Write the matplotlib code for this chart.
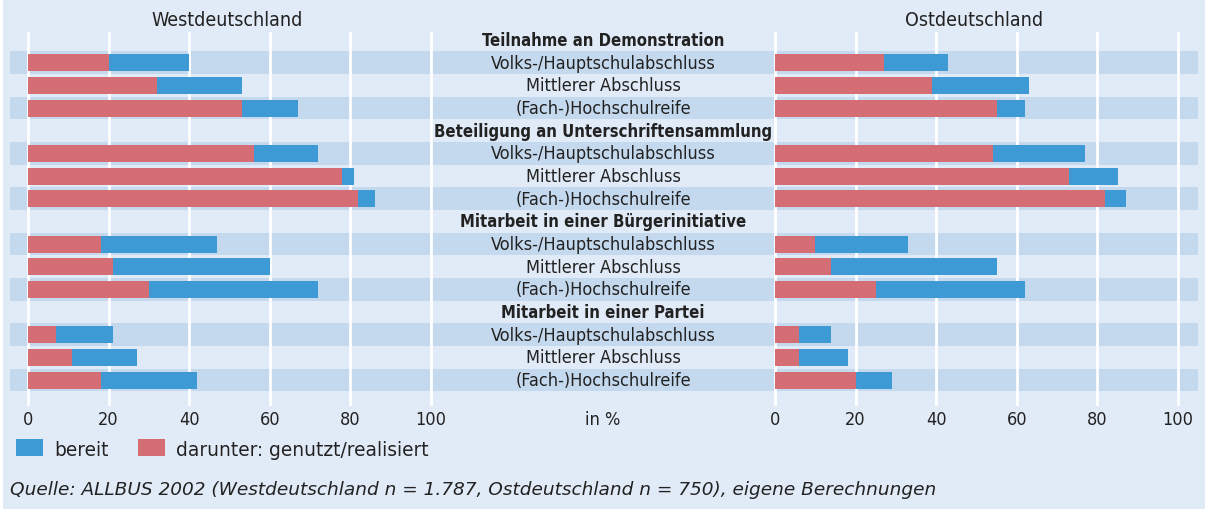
import matplotlib
matplotlib.use("Agg")
import matplotlib.pyplot as plt
from matplotlib.patches import Rectangle

plt.rcParams['font.family'] = ['DejaVu Sans']
plt.rcParams['font.stretch'] = 'condensed'

# Daten (Anteile in %)
gruppen = ["Teilnahme an Demonstration",
           "Beteiligung an Unterschriftensammlung",
           "Mitarbeit in einer Bürgerinitiative",
           "Mitarbeit in einer Partei"]
abschluss = ["Volks-/Hauptschulabschluss", "Mittlerer Abschluss", "(Fach-)Hochschulreife"]

west_bereit = [40, 53, 67, 72, 81, 86, 47, 60, 72, 21, 27, 42]
west_genutzt = [20, 32, 53, 56, 78, 82, 18, 21, 30, 7, 11, 18]
ost_bereit = [43, 63, 62, 77, 85, 87, 33, 55, 62, 14, 18, 29]
ost_genutzt = [27, 39, 55, 54, 73, 82, 10, 14, 25, 6, 6, 20]

ticks = [0, 20, 40, 60, 80, 100]

BG = '#e1ebf7'
BAND = '#c5d9ee'
BLUE = '#3d9ad4'
RED = '#d56d75'
TXT = '#222222'

W, H = 1205, 510
fig = plt.figure(figsize=(W / 100, H / 100), dpi=100, facecolor=BG)

def fx(x):
    return x / W

def fy(y):
    return 1 - y / H

# Zeilenpositionen: je Gruppe eine Überschrift + drei Balken
y_head = []
y_rows = []
for g in range(len(gruppen)):
    y_head.append(g * 4)
    y_rows += [g * 4 + 1, g * 4 + 2, g * 4 + 3]

top_px, bot_px, y0_px, pitch = 33, 407, 41, 22.67
ylim = ((bot_px - y0_px) / pitch, (top_px - y0_px) / pitch)
ax_bottom = fy(bot_px)
ax_height = (bot_px - top_px) / H

# Hintergrund mit Streifen
bg = fig.add_axes([0, ax_bottom, 1, ax_height])
bg.set_xlim(0, W)
bg.set_ylim(*ylim)
bg.axis('off')
for i, y in enumerate(y_rows):
    if i % 3 != 1:
        bg.axhspan(y - 0.5, y + 0.5, xmin=10 / W, xmax=1198 / W, color=BAND, lw=0)
for g, y in enumerate(y_head):
    bg.text(603, y, gruppen[g], ha='center', va='center',
            fontsize=12, fontweight='bold', color=TXT)
for i, y in enumerate(y_rows):
    bg.text(603, y, abschluss[i % 3], ha='center', va='center', fontsize=13, color=TXT)

fig.add_artist(Rectangle((0, 0), fx(3), 1, transform=fig.transFigure, color='white', lw=0))

def panel(x0, x100, bereit, genutzt, titel):
    scale = (x100 - x0) / 100
    left = x0 - 2 * scale
    ax = fig.add_axes([fx(left), ax_bottom, fx(104 * scale), ax_height])
    ax.set_facecolor('none')
    ax.set_xlim(-2, 102)
    ax.set_ylim(*ylim)
    for s in ax.spines.values():
        s.set_visible(False)
    ax.set_yticks([])
    ax.set_xticks(ticks)
    ax.tick_params(axis='x', length=0, pad=3, labelsize=13, colors=TXT)
    ax.grid(axis='x', color='white', lw=2.0)
    ax.set_axisbelow(True)
    ax.barh(y_rows, bereit, left=0, height=0.75, color=BLUE, zorder=3)
    ax.barh(y_rows, genutzt, left=0, height=0.75, color=RED, zorder=4)
    fig.text(fx((x0 + x100) / 2 - 2), fy(20), titel, ha='center', va='center',
             fontsize=14, color=TXT)
    return ax

panel(28, 431, west_bereit, west_genutzt, "Westdeutschland")
panel(775, 1178, ost_bereit, ost_genutzt, "Ostdeutschland")

fig.text(fx(603), fy(420), "in %", ha='center', va='center', fontsize=13, color=TXT)

# Legende
fig.add_artist(Rectangle((fx(16), fy(457)), fx(27), 17 / H, transform=fig.transFigure,
                         color=BLUE, lw=0))
fig.text(fx(54), fy(451), "bereit", ha='left', va='center', fontsize=13.4,
         fontstretch='normal', color=TXT)
fig.add_artist(Rectangle((fx(138), fy(457)), fx(27), 17 / H, transform=fig.transFigure,
                         color=RED, lw=0))
fig.text(fx(176), fy(451), "darunter: genutzt/realisiert", ha='left', va='center',
         fontsize=13.4, fontstretch='normal', color=TXT)

fig.text(fx(10), fy(490),
         "Quelle: ALLBUS 2002 (Westdeutschland n = 1.787, Ostdeutschland n = 750), eigene Berechnungen",
         ha='left', va='center', fontsize=13.3, style='italic', fontstretch='normal', color=TXT)

fig.savefig('out.png', dpi=100, facecolor=BG)
